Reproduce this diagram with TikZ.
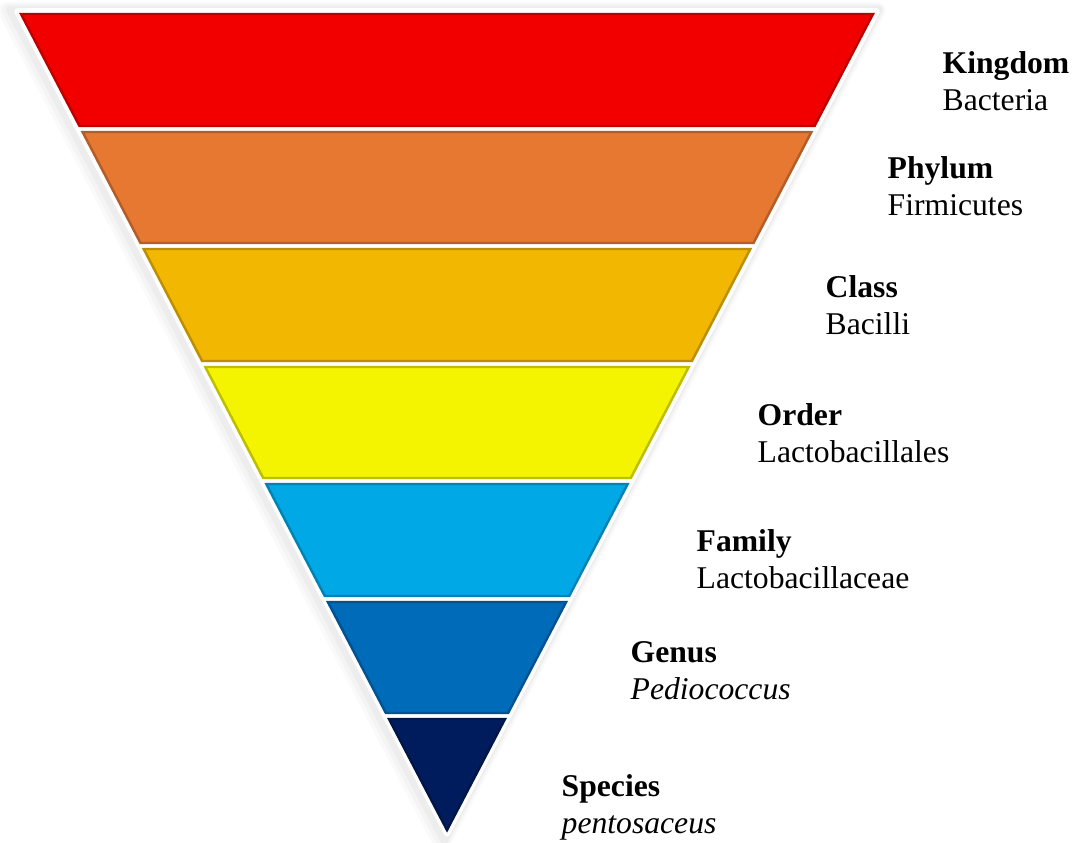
\documentclass[tikz,border=0pt]{standalone}
\usepackage{fontspec}
\setmainfont{Liberation Serif}
\definecolor{kred}{RGB}{242,0,0}
\definecolor{korange}{RGB}{230,120,50}
\definecolor{kamber}{RGB}{242,183,0}
\definecolor{kyellow}{RGB}{244,244,0}
\definecolor{klightblue}{RGB}{0,168,230}
\definecolor{kblue}{RGB}{0,107,184}
\definecolor{knavy}{RGB}{0,28,92}

\begin{document}
\begin{tikzpicture}[x=0.01cm, y=-0.01cm,
  band/.style={fill=#1, draw=#1!78!black, line width=0.7pt, line join=miter},
  rank/.style={anchor=base west, inner sep=0pt, font=\fontsize{9}{11}\selectfont\bfseries},
  taxon/.style={anchor=base west, inner sep=0pt, font=\fontsize{9}{11}\selectfont}]
\useasboundingbox (0, 0) rectangle (1076, 842);
% soft shadow and white frame
\draw [gray, opacity=0.04, line width=5pt, line join=round, xshift=-1.5pt, yshift=-0.8pt] (12, 8) -- (882, 8) -- (447, 840) -- cycle;
\draw [gray, opacity=0.05, line width=3.5pt, line join=round, xshift=-1.2pt, yshift=-0.6pt] (12, 8) -- (882, 8) -- (447, 840) -- cycle;
\draw [gray, opacity=0.06, line width=2pt, line join=round, xshift=-0.8pt, yshift=-0.4pt] (12, 8) -- (882, 8) -- (447, 840) -- cycle;
\fill [white, rounded corners=2pt] (12, 8) -- (882, 8) -- (447, 840) -- cycle;
% bands
\draw [band=kred] (21, 14) -- (873, 14) -- (814.5, 126) -- (79.5, 126) -- cycle;
\draw [band=korange] (82.6, 132) -- (811.4, 132) -- (753.5, 243) -- (140.5, 243) -- cycle;
\draw [band=kamber] (143.7, 249) -- (750.3, 249) -- (691.9, 361) -- (202.1, 361) -- cycle;
\draw [band=kyellow] (205.3, 367) -- (688.7, 367) -- (630.8, 478) -- (263.2, 478) -- cycle;
\draw [band=klightblue] (266.3, 484) -- (627.7, 484) -- (569.2, 596) -- (324.8, 596) -- cycle;
\draw [band=kblue] (327.9, 602) -- (566.1, 602) -- (508.1, 713) -- (385.9, 713) -- cycle;
\draw [band=knavy] (389, 719) -- (505, 719) -- (447, 830) -- cycle;
% labels
\node [rank] (kingdom) at (942, 73) {Kingdom};
\node [taxon] (bacteria) at ([yshift=-0.37cm]kingdom.base west) {Bacteria};
\node [rank] (phylum) at (887, 178) {Phylum};
\node [taxon] (firmicutes) at ([yshift=-0.37cm]phylum.base west) {Firmicutes};
\node [rank] (class) at (825, 297) {Class};
\node [taxon] (bacilli) at ([yshift=-0.37cm]class.base west) {Bacilli};
\node [rank] (order) at (757, 425) {Order};
\node [taxon] (lactobacillales) at ([yshift=-0.37cm]order.base west) {Lactobacillales};
\node [rank] (family) at (696, 551) {Family};
\node [taxon] (lactobacillaceae) at ([yshift=-0.37cm]family.base west) {Lactobacillaceae};
\node [rank] (genus) at (630, 662) {Genus};
\node [taxon] (pediococcus) at ([yshift=-0.37cm]genus.base west) {\itshape Pediococcus};
\node [rank] (species) at (561, 796) {Species};
\node [taxon] (pentosaceus) at ([yshift=-0.37cm]species.base west) {\itshape pentosaceus};
\end{tikzpicture}
\end{document}
